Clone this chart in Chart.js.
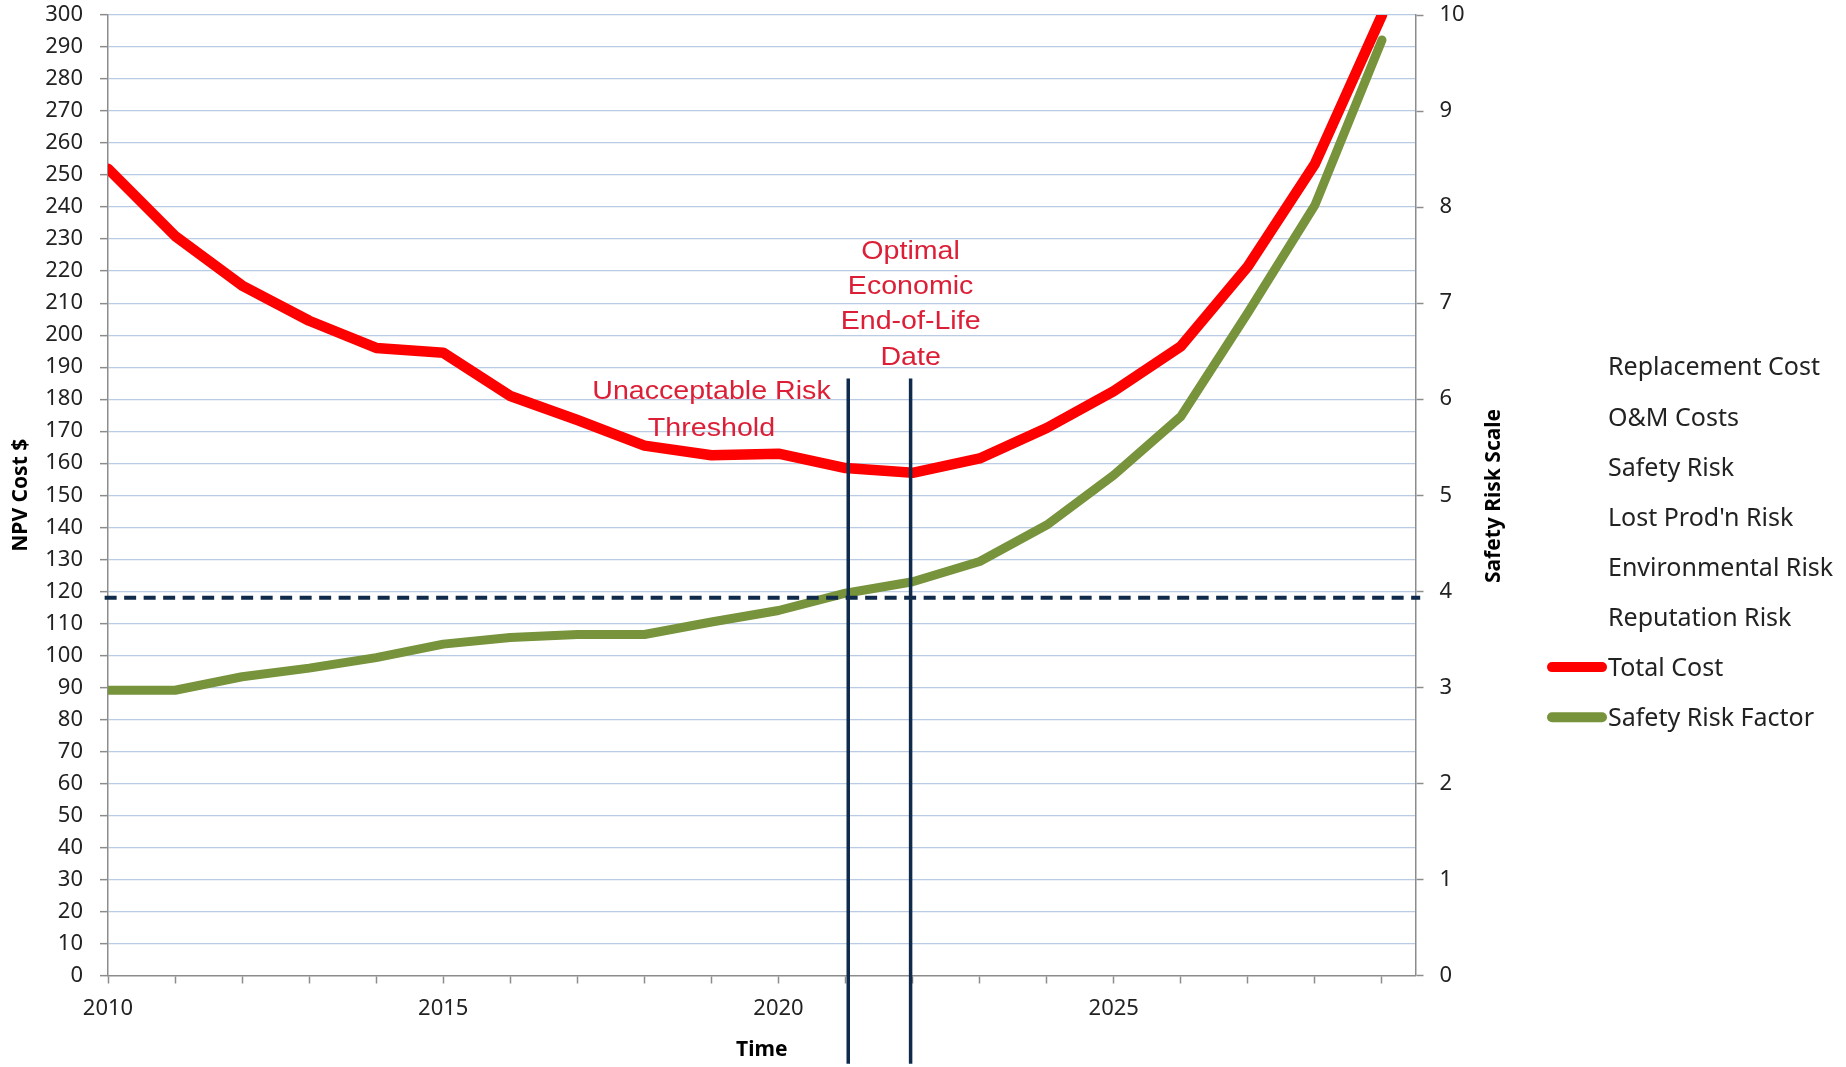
<!DOCTYPE html>
<html>
<head>
<meta charset="utf-8">
<script src="https://cdn.jsdelivr.net/npm/chart.js@4.4.1/dist/chart.umd.min.js"></script>
<style>
  html, body { margin: 0; padding: 0; background: #ffffff; }
  #wrap { width: 1846px; height: 1067px; position: relative; }
</style>
</head>
<body>
<div id="wrap"><canvas id="c"></canvas></div>
<script>
// ---------------- data ----------------
const years = [2010, 2011, 2012, 2013, 2014, 2015, 2016, 2017, 2018, 2019,
               2020, 2021, 2022, 2023, 2024, 2025, 2026, 2027, 2028, 2029];
const totalCost = [252, 231, 215.5, 204.5, 196, 194.5, 181, 173.5, 165.5, 162.5,
                   163, 158.5, 157, 161.5, 171, 182.5, 196.5, 221.5, 253.5, 300];
const safetyRiskFactor = [2.97, 2.97, 3.11, 3.2, 3.31, 3.45, 3.52, 3.55, 3.55, 3.68,
                          3.8, 3.98, 4.1, 4.31, 4.69, 5.21, 5.82, 6.9, 8.02, 9.74];
const hiddenSeriesNames = ['Replacement Cost', 'O&M Costs', 'Safety Risk',
                           "Lost Prod'n Risk", 'Environmental Risk', 'Reputation Risk'];
const xTickLabels = [2010, 2015, 2020, 2025];
const riskThreshold = 118;
const markerYears = [2021.04, 2021.97];
const thresholdText = ['Unacceptable Risk', 'Threshold'];
const optimalText = ['Optimal', 'Economic', 'End-of-Life', 'Date'];

// ---------------- styles ----------------
const GRID = '#B9CCE4';
const AXIS = '#8C8C8C';
const NAVY = '#0f2a4a';
const LABEL_RED = '#dc1f36';
const TXT = '#222222';

Chart.defaults.font.family = '"Noto Sans", sans-serif';
Chart.defaults.color = TXT;

const overlay = {
  id: 'overlay',
  afterDatasetsDraw(chart) {
    const { ctx, scales: { x, y } } = chart;
    ctx.save();
    // threshold dashed line
    ctx.strokeStyle = NAVY;
    ctx.lineWidth = 4;
    ctx.setLineDash([12, 7.5]);
    const ty = y.getPixelForValue(riskThreshold);
    ctx.beginPath();
    ctx.moveTo(x.getPixelForValue(2009.95), ty);
    ctx.lineTo(x.getPixelForValue(2029.57), ty);
    ctx.stroke();
    ctx.setLineDash([]);
    // vertical marker lines
    ctx.lineWidth = 3.5;
    markerYears.forEach(yr => {
      const px = x.getPixelForValue(yr);
      ctx.beginPath();
      ctx.moveTo(px, y.getPixelForValue(186.5));
      ctx.lineTo(px, y.getPixelForValue(-27.6));
      ctx.stroke();
    });
    // annotation text
    ctx.fillStyle = LABEL_RED;
    ctx.font = '26px "Liberation Sans", Arial, sans-serif';
    ctx.textAlign = 'center';
    ctx.textBaseline = 'alphabetic';
    const drawLines = (lines, xv, yvs) => {
      lines.forEach((t, i) => {
        ctx.save();
        ctx.translate(x.getPixelForValue(xv), y.getPixelForValue(yvs[i]));
        ctx.scale(1.1, 1);
        ctx.fillText(t, 0, 0);
        ctx.restore();
      });
    };
    drawLines(thresholdText, 2019, [180.0, 168.5]);
    drawLines(optimalText, markerYears[1], [223.7, 212.9, 201.8, 190.6]);
    ctx.restore();
  },
  afterDraw(chart) {
    const { ctx } = chart;
    ctx.save();
    // right axis title (reads upward)
    ctx.translate(1492.5, 496);
    ctx.rotate(-Math.PI / 2);
    ctx.font = 'bold 21px "Noto Sans", sans-serif';
    ctx.fillStyle = '#000';
    ctx.textAlign = 'center';
    ctx.textBaseline = 'alphabetic';
    ctx.fillText('Safety Risk Scale', 0, 7.5);
    ctx.restore();

    // legend
    ctx.save();
    ctx.font = '25px "Noto Sans", sans-serif';
    ctx.textAlign = 'left';
    ctx.textBaseline = 'alphabetic';
    chart.data.datasets.forEach((ds, i) => {
      const cy = 366.5 + i * 50.1;
      if (ds.data.length) {
        ctx.strokeStyle = ds.borderColor;
        ctx.lineWidth = 10;
        ctx.lineCap = 'round';
        ctx.beginPath();
        ctx.moveTo(1552, cy);
        ctx.lineTo(1602, cy);
        ctx.stroke();
      }
      ctx.fillStyle = TXT;
      ctx.fillText(ds.label, 1608, cy + 8.9);
    });
    ctx.restore();
  }
};

const datasets = [
  ...hiddenSeriesNames.map(n => ({
    label: n, data: [], borderColor: 'rgba(0,0,0,0)', yAxisID: 'y'
  })),
  {
    label: 'Total Cost',
    data: years.map((yr, i) => ({ x: yr, y: totalCost[i] })),
    borderColor: '#FF0000',
    borderWidth: 10.5,
    yAxisID: 'y'
  },
  {
    label: 'Safety Risk Factor',
    data: years.map((yr, i) => ({ x: yr, y: safetyRiskFactor[i] })),
    borderColor: '#77933C',
    borderWidth: 9,
    yAxisID: 'y1'
  }
];

const zeroVertPadding = s => { s.paddingTop = 0; s.paddingBottom = 0; };

new Chart(document.getElementById('c'), {
  type: 'line',
  data: { datasets },
  options: {
    responsive: true,
    maintainAspectRatio: false,
    animation: false,
    layout: { padding: { left: 0, right: 335.5, top: 15, bottom: 0 } },
    elements: {
      point: { radius: 0, hoverRadius: 0 },
      line: { tension: 0, borderJoinStyle: 'round', borderCapStyle: 'round', fill: false }
    },
    plugins: { legend: { display: false }, tooltip: { enabled: false } },
    scales: {
      x: {
        type: 'linear', min: 2010, max: 2029.5,
        afterBuildTicks: s => { s.ticks = years.map(v => ({ value: v })); },
        afterFit: s => { s.height = 91.5; s.paddingLeft = 0; s.paddingRight = 0; },
        ticks: {
          autoSkip: false, maxRotation: 0, minRotation: 0, padding: 12,
          color: TXT, font: { size: 22 },
          callback: v => xTickLabels.includes(v) ? String(v) : ''
        },
        grid: { drawOnChartArea: false, drawTicks: true, tickLength: 8, tickColor: AXIS, tickWidth: 1.5 },
        border: { display: true, color: AXIS, width: 1.5 },
        title: { display: true, text: 'Time', color: '#000',
                 font: { size: 21, weight: 'bold' }, padding: { top: 0, bottom: 4.4 } }
      },
      y: {
        position: 'left', min: 0, max: 300,
        afterFit: s => { s.width = 108; zeroVertPadding(s); },
        ticks: { stepSize: 10, padding: 17, autoSkip: false, color: TXT, font: { size: 22 } },
        grid: {
          color: c => (c.tick && c.tick.value === 0) ? 'rgba(0,0,0,0)' : GRID,
          lineWidth: 1.3, tickColor: AXIS, tickLength: 8, tickWidth: 1.5
        },
        border: { display: true, color: AXIS, width: 1.5 },
        title: { display: true, text: 'NPV Cost $', color: '#000',
                 font: { size: 21, weight: 'bold' }, padding: { top: 8.4, bottom: 0 } }
      },
      y1: {
        position: 'right', min: 0, max: 10,
        afterFit: s => { s.width = 95; zeroVertPadding(s); },
        ticks: { stepSize: 1, padding: 16, autoSkip: false, color: TXT, font: { size: 22 } },
        grid: { drawOnChartArea: false, tickColor: AXIS, tickLength: 8, tickWidth: 1.5 },
        border: { display: true, color: AXIS, width: 1.5 }
      }
    }
  },
  plugins: [overlay]
});
</script>
</body>
</html>
